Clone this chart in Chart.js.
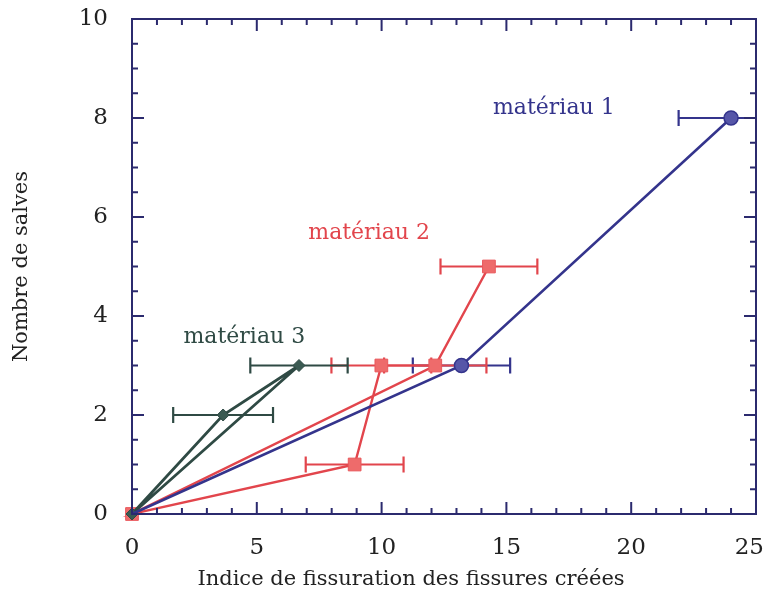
<!DOCTYPE html>
<html>
<head>
<meta charset="utf-8">
<script src="https://cdn.jsdelivr.net/npm/chart.js@4"></script>
<style>
    html, body { margin: 0; padding: 0; background: #fff; }
    #wrap { width: 766px; height: 601px; }
</style>
</head>
<body>
<div id="wrap"><canvas id="chart"></canvas></div>
<script>
// ---- données ----
const xTicks = [0, 5, 10, 15, 20, 25];
const yTicks = [0, 2, 4, 6, 8, 10];

// matériau 1 (bleu, cercles)
const m1X = [0, 13.2, 24.0];
const m1Y = [0, 3, 8];
const m1Err = [0, 1.95, 2.1];

// matériau 2 (rouge, carrés) - ordre du tracé
const m2X = [14.3, 12.15, 0, 8.92, 9.99];
const m2Y = [5, 3, 0, 1, 3];
const m2Err = [1.94, 2.05, 0, 1.96, 2.0];

// matériau 3 (vert foncé, losanges)
const m3X = [0, 3.65, 6.69, 0];
const m3Y = [0, 2, 3, 0];
const m3Err = [0, 2.0, 1.95, 0];

const labels = ['matériau 1', 'matériau 2', 'matériau 3'];
const labelX = [16.9, 9.5, 4.5];
const labelY = [8.2, 5.68, 3.56];

const AXIS = '#2b2a6e';
const BLUE = '#34348c';
const RED = '#e2454c';
const GREEN = '#2f4a44';
const FONT = 'DejaVu Serif';

function pts(xs, ys) {
    return xs.map((x, i) => ({ x: x, y: ys[i] }));
}

// barres d'erreur horizontales
const errorBars = {
    id: 'errorBars',
    beforeDatasetsDraw(chart) {
        const { ctx, chartArea: a, scales: { x, y } } = chart;
        ctx.save();
        ctx.beginPath();
        ctx.rect(a.left, a.top - 10, a.right - a.left, a.bottom - a.top + 20);
        ctx.clip();
        chart.data.datasets.forEach(ds => {
            ctx.strokeStyle = ds.borderColor;
            ctx.lineWidth = 2.2;
            ds.data.forEach((p, i) => {
                const e = ds.err[i];
                if (!e) return;
                const x0 = x.getPixelForValue(p.x - e);
                const x1 = x.getPixelForValue(p.x + e);
                const py = y.getPixelForValue(p.y);
                ctx.beginPath();
                ctx.moveTo(x0, py); ctx.lineTo(x1, py);
                ctx.moveTo(x0, py - 8); ctx.lineTo(x0, py + 8);
                ctx.moveTo(x1, py - 8); ctx.lineTo(x1, py + 8);
                ctx.stroke();
            });
        });
        ctx.restore();
    }
};

// cadre, graduations intérieures, étiquettes et titre de l'axe x
const frame = {
    id: 'frame',
    afterDraw(chart) {
        const { ctx, chartArea: a, scales: { x, y }, width } = chart;
        ctx.save();
        ctx.strokeStyle = AXIS;
        ctx.lineWidth = 2;
        ctx.strokeRect(a.left, a.top, a.right - a.left, a.bottom - a.top);
        ctx.beginPath();
        for (let v = x.min; v <= x.max + 1e-9; v += 1) {
            const px = x.getPixelForValue(v);
            const len = v % 5 === 0 ? 12 : 6;
            ctx.moveTo(px, a.bottom); ctx.lineTo(px, a.bottom - len);
            ctx.moveTo(px, a.top); ctx.lineTo(px, a.top + len);
        }
        for (let v = y.min; v <= y.max + 1e-9; v += 0.5) {
            const py = y.getPixelForValue(v);
            const len = v % 2 === 0 ? 12 : 6;
            ctx.moveTo(a.left, py); ctx.lineTo(a.left + len, py);
            ctx.moveTo(a.right, py); ctx.lineTo(a.right - len, py);
        }
        ctx.stroke();

        ctx.textAlign = 'center';
        ctx.textBaseline = 'middle';

        // étiquettes de l'axe x (la dernière reste dans le cadre)
        ctx.font = '23px "' + FONT + '"';
        ctx.fillStyle = '#222';
        xTicks.forEach(v => {
            const t = String(v);
            const w = ctx.measureText(t).width;
            const px = Math.min(x.getPixelForValue(v), width - 2 - w / 2);
            ctx.fillText(t, px, a.bottom + 34);
        });

        ctx.font = '22px "' + FONT + '"';
        const colors = [BLUE, RED, GREEN];
        labels.forEach((t, i) => {
            ctx.fillStyle = colors[i];
            ctx.fillText(t, x.getPixelForValue(labelX[i]), y.getPixelForValue(labelY[i]));
        });

        ctx.font = '21px "' + FONT + '"';
        ctx.fillStyle = '#222';
        ctx.fillText('Indice de fissuration des fissures créées', 411, 580);
        ctx.restore();
    }
};

new Chart(document.getElementById('chart'), {
    type: 'scatter',
    data: {
        datasets: [
            {
                data: pts(m1X, m1Y), err: m1Err, showLine: true, order: 0,
                borderColor: BLUE, borderWidth: 2.6,
                pointStyle: 'circle', pointRadius: [0, 7, 7],
                pointBackgroundColor: '#5656a8', pointBorderColor: BLUE, pointBorderWidth: 1.5
            },
            {
                data: pts(m2X, m2Y), err: m2Err, showLine: true, order: 2,
                borderColor: RED, borderWidth: 2.4,
                pointStyle: 'rect', pointRadius: 9,
                pointBackgroundColor: '#ee6b6b', pointBorderColor: '#e9585c', pointBorderWidth: 1
            },
            {
                data: pts(m3X, m3Y), err: m3Err, showLine: true, order: 1,
                borderColor: GREEN, borderWidth: 2.8,
                pointStyle: 'rectRot', pointRadius: 6,
                pointBackgroundColor: '#3b5a52', pointBorderColor: GREEN, pointBorderWidth: 1
            }
        ]
    },
    options: {
        responsive: true,
        maintainAspectRatio: false,
        animation: false,
        clip: false,
        layout: { padding: { top: 19, right: 9, left: 0, bottom: 0 } },
        plugins: { legend: { display: false }, tooltip: { enabled: false } },
        scales: {
            x: {
                type: 'linear', min: 0, max: 25,
                afterFit: s => { s.height = 87; s.paddingLeft = 0; s.paddingRight = 0; },
                afterBuildTicks: s => { s.ticks = xTicks.map(v => ({ value: v })); },
                grid: { display: false },
                border: { display: false },
                ticks: { display: false }
            },
            y: {
                type: 'linear', min: 0, max: 10,
                afterFit: s => { s.width = 132; s.paddingTop = 0; s.paddingBottom = 0; },
                afterBuildTicks: s => { s.ticks = yTicks.map(v => ({ value: v })); },
                grid: { display: false },
                border: { display: false },
                title: {
                    display: true, text: 'Nombre de salves', color: '#222',
                    font: { family: FONT, size: 21 }, padding: { top: 9, bottom: 0 }
                },
                ticks: { padding: 16, color: '#222', font: { family: FONT, size: 23 } }
            }
        }
    },
    plugins: [errorBars, frame]
});
</script>
</body>
</html>
